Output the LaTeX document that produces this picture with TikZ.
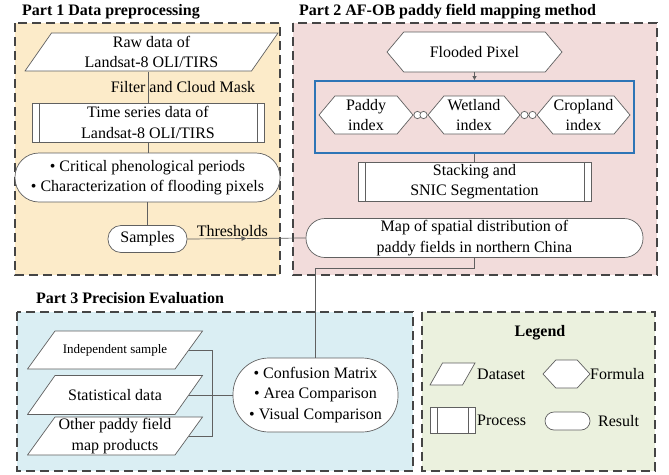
\documentclass[tikz,border=0pt]{standalone}
\usepackage{fontspec}
\setmainfont{Liberation Serif}
\usetikzlibrary{shapes.misc,shapes.symbols,arrows.meta,calc}
\definecolor{pone}{HTML}{FCEBC9}
\definecolor{ptwo}{HTML}{F2DCDB}
\definecolor{pthree}{HTML}{DAEEF3}
\definecolor{pleg}{HTML}{EBF1DE}
\definecolor{edgec}{HTML}{606060}
\definecolor{dashc}{HTML}{454545}
\definecolor{bluec}{HTML}{2E75B6}
\tikzset{dslant/.store in=\dslant, dslant=27pt}
\begin{document}
\begin{tikzpicture}[x=1pt,y=-1pt,
  every node/.style={font=\fontsize{16}{20.5}\selectfont, inner sep=0pt, align=center},
  partbox/.style={draw=dashc, line width=1.4pt, dash pattern=on 9pt off 5pt},
  ptitle/.style={font=\fontsize{16}{20}\selectfont\bfseries, anchor=west},
  dataset/.style={rectangle,
    path picture={\path[fill=white, draw=edgec, line width=0.7pt]
      ([xshift=\dslant, yshift=-0.5pt]path picture bounding box.north west) --
      ([xshift=-0.5pt, yshift=-0.5pt]path picture bounding box.north east) --
      ([xshift=-\dslant, yshift=0.5pt]path picture bounding box.south east) --
      ([xshift=0.5pt, yshift=0.5pt]path picture bounding box.south west) -- cycle;}},
  formula/.style={signal, signal to=west and east, signal pointer angle=100, draw=edgec, fill=white, line width=0.7pt},
  process/.style={rectangle, draw=edgec, fill=white, line width=0.7pt,
    path picture={\draw[edgec, line width=0.7pt]
      ([xshift=7pt]path picture bounding box.north west) -- ([xshift=7pt]path picture bounding box.south west)
      ([xshift=-7pt]path picture bounding box.north east) -- ([xshift=-7pt]path picture bounding box.south east);}},
  result/.style={rectangle, draw=edgec, fill=white, line width=0.7pt},
  conn/.style={draw=edgec, line width=0.7pt},
  tip/.style={-{Triangle[length=5pt,width=4.5pt]}},
  linkc/.style={draw=edgec, line width=0.7pt, {Circle[length=8pt,fill=white]}-{Circle[length=8pt,fill=white]}}
]
\useasboundingbox (0,0) rectangle (669,474);
% group frames
\draw[partbox, fill=pone] (15,23) rectangle (280,275);
\draw[partbox, fill=ptwo] (293,23) rectangle (657,275);
\draw[partbox, fill=pthree] (17,312) rectangle (413,471);
\draw[partbox, fill=pleg] (422,312) rectangle (655,471);
\node[ptitle] (t1) at (22,12) {Part 1 Data preprocessing};
\node[ptitle] (t2) at (299,12) {Part 2 AF-OB paddy field mapping method};
\node[ptitle] (t3) at (36,298) {Part 3 Precision Evaluation};

% Part 1
\node[dataset, dslant=27pt, minimum width=254pt, minimum height=39pt] (raw) at (151.5,52) {Raw data of\\Landsat-8 OLI/TIRS};
\node[process, minimum width=232pt, minimum height=39pt] (ts) at (148,122.5) {Time series data of\\Landsat-8 OLI/TIRS};
\node[result, rounded corners=24pt, minimum width=265pt, minimum height=49pt] (crit) at (147.5,177.5) {\textbullet\ Critical phenological periods\\\textbullet\ Characterization of flooding pixels};
\node[result, rounded corners=13pt, minimum width=79pt, minimum height=27pt] (samples) at (147.5,239) {Samples};

% Part 2
\node[formula, minimum width=175pt, minimum height=40pt] (flood) at (474.5,52) {Flooded Pixel};
\node[draw=bluec, line width=1.8pt, minimum width=319pt, minimum height=72pt] (ibox) at (474.5,117) {};
\node[formula, minimum width=94pt, minimum height=38pt] (paddy) at (366,115) {Paddy\\index};
\node[formula, minimum width=92pt, minimum height=38pt] (wet) at (474,115) {Wetland\\index};
\node[formula, minimum width=93pt, minimum height=38pt] (crop) at (583.5,115) {Cropland\\index};
\node[process, minimum width=233pt, minimum height=39pt] (stack) at (474.5,181.5) {Stacking and\\SNIC Segmentation};
\node[result, rounded corners=19pt, minimum width=337pt, minimum height=39pt] (map) at (474.5,238) {Map of spatial distribution of\\paddy fields in northern China};

% Part 3
\node[dataset, dslant=28pt, minimum width=176pt, minimum height=39pt, font=\fontsize{13}{16}\selectfont] (indep) at (115,350) {Independent sample};
\node[dataset, dslant=28pt, minimum width=176pt, minimum height=40pt] (stat) at (115,395) {Statistical data};
\node[dataset, dslant=28pt, minimum width=176pt, minimum height=39pt] (other) at (115,436) {Other paddy field\\map products};
\node[result, rounded corners=36pt, minimum width=165pt, minimum height=74pt] (conf) at (315.5,395) {\textbullet\ Confusion Matrix\\\textbullet\ Area Comparison\\\textbullet\ Visual Comparison};
\coordinate (bus) at (212,0);

% Legend
\node[font=\fontsize{16}{20}\selectfont\bfseries] (legt) at (540,333) {Legend};
\node[dataset, dslant=13pt, minimum width=46pt, minimum height=23pt] (lds) at (452.5,374) {};
\node[anchor=west] (ldst) at (477,374) {Dataset};
\node[formula, inner sep=2pt, signal pointer angle=95, minimum width=47pt, minimum height=28pt] (lfm) at (566.5,374) {\phantom{x}};
\node[anchor=west] (lfmt) at (590,374) {Formula};
\node[process, minimum width=45pt, minimum height=26pt] (lpr) at (452.5,420) {};
\node[anchor=west] (lprt) at (477,420) {Process};
\node[result, rounded corners=9pt, minimum width=45pt, minimum height=18pt] (lrs) at (567.5,421) {};
\node[anchor=west] (lrst) at (598,421) {Result};

% connectors
\draw[conn] (raw.south -| ts.north) -- node[pos=0.5, xshift=35pt] {Filter and Cloud Mask} (ts.north);
\draw[conn] (ts.south) -- (ts.south |- crit.north);
\draw[conn] (crit.south) -- (samples.north);
\coordinate (thr) at ($(samples.east)!0.5!(map.west)$);
\draw[conn, tip] (samples.east) -- node[pos=0.76, above=2pt] {Thresholds} (thr);
\draw[conn] (thr) -- (map.west);
\draw[conn, -{Triangle[length=4pt,width=4pt]}] (flood.south) -- (ibox.north);
\draw[linkc] (paddy.east) -- (wet.west);
\draw[linkc] (wet.east) -- (crop.west);
\draw[conn] (ibox.south) -- (stack.north);
\draw[conn] (map.south) -- ++(0,10) -| (conf.north);
\draw[conn] ([xshift=-14pt]indep.east) -- (indep.east -| bus) -- (other.east -| bus) -- ([xshift=-14pt]other.east);
\draw[conn] ([xshift=-14pt]stat.east) -- (conf.west);
\end{tikzpicture}
\end{document}
